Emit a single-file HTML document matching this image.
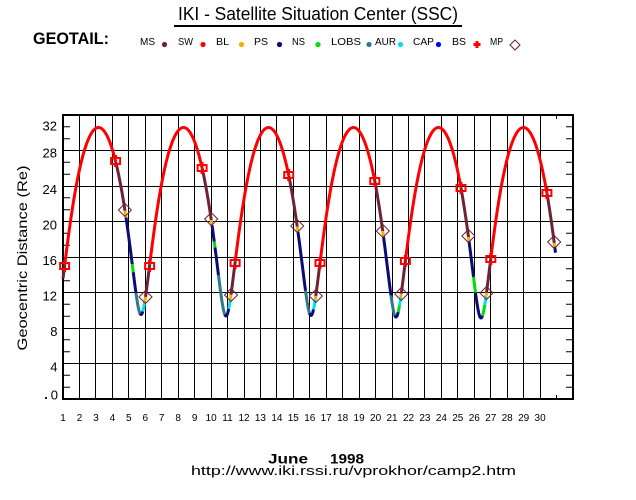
<!DOCTYPE html>
<html><head><meta charset="utf-8">
<style>
html,body{margin:0;padding:0;background:#fff;}
svg{display:block;}
text{font-family:"Liberation Sans",sans-serif;fill:#000;}
</style></head>
<body>
<svg id="s" width="636" height="500" viewBox="0 0 636 500" xmlns="http://www.w3.org/2000/svg">
<rect x="0" y="0" width="636" height="500" fill="#fff"/>
<!-- title -->
<text x="178" y="20" font-size="18" textLength="280" lengthAdjust="spacingAndGlyphs">IKI - Satellite Situation Center (SSC)</text>
<line x1="174" y1="26" x2="462" y2="26" stroke="#000" stroke-width="2"/>
<text x="33" y="44" font-size="17" font-weight="bold" textLength="76" lengthAdjust="spacingAndGlyphs">GEOTAIL:</text>
<!-- legend -->
<g font-size="10.5">
<text x="140" y="45" textLength="15" lengthAdjust="spacingAndGlyphs">MS</text>
<text x="178" y="45" textLength="15" lengthAdjust="spacingAndGlyphs">SW</text>
<text x="216" y="45" textLength="13" lengthAdjust="spacingAndGlyphs">BL</text>
<text x="254" y="45" textLength="14" lengthAdjust="spacingAndGlyphs">PS</text>
<text x="292" y="45" textLength="13" lengthAdjust="spacingAndGlyphs">NS</text>
<text x="331" y="45" textLength="30" lengthAdjust="spacingAndGlyphs">LOBS</text>
<text x="375" y="45" textLength="21" lengthAdjust="spacingAndGlyphs">AUR</text>
<text x="413" y="45" textLength="21" lengthAdjust="spacingAndGlyphs">CAP</text>
<text x="452" y="45" textLength="14" lengthAdjust="spacingAndGlyphs">BS</text>
<text x="490" y="45" textLength="13" lengthAdjust="spacingAndGlyphs">MP</text>
</g>
<circle cx="164.5" cy="44.5" r="2.6" fill="#6e2232"/>
<circle cx="203" cy="44.5" r="2.6" fill="#ff0000"/>
<circle cx="241.5" cy="44.5" r="2.6" fill="#ffaa00"/>
<circle cx="279.5" cy="44.5" r="2.6" fill="#0a0a78"/>
<circle cx="318" cy="44.5" r="2.6" fill="#00dd00"/>
<circle cx="369" cy="44.5" r="2.6" fill="#2a7b8c"/>
<circle cx="400.5" cy="44.5" r="2.6" fill="#00e0f0"/>
<circle cx="438.5" cy="44.5" r="2.6" fill="#0000ff"/>
<path d="M475.5 41h3v2h2v3h-2v2h-3v-2h-2v-3h2z" fill="#ff0000"/>
<path d="M515 40 L520 45 L515 50 L510 45 Z" fill="none" stroke="#6e2232" stroke-width="1"/>

<!-- grid -->
<g stroke="#000" stroke-width="1" fill="none">
<path d="M79.5 115V399M95.5 115V399M112.5 115V399M128.5 115V399M145.5 115V399M161.5 115V399M178.5 115V399M194.5 115V399M211.5 115V399M227.5 115V399M244.5 115V399M260.5 115V399M276.5 115V399M293.5 115V399M309.5 115V399M326.5 115V399M342.5 115V399M359.5 115V399M375.5 115V399M392.5 115V399M408.5 115V399M424.5 115V399M441.5 115V399M457.5 115V399M474.5 115V399M490.5 115V399M507.5 115V399M523.5 115V399M540.5 115V399"/>
<path d="M63 150.5H573M63 186.5H573M63 221.5H573M63 257.5H573M63 292.5H573M63 328.5H573M63 363.5H573"/>
<path d="M556.5 115V119M556.5 399V395"/>
<path id="minor" d=""/>
</g>
<rect x="63" y="115" width="510" height="284" fill="none" stroke="#000" stroke-width="2"/>

<!-- y labels -->
<g font-size="13" text-anchor="end">
<text x="57" y="130.5">32</text>
<text x="57" y="157.5">28</text>
<text x="57" y="194">24</text>
<text x="57" y="229.5">20</text>
<text x="57" y="265">16</text>
<text x="57" y="300.5">12</text>
<text x="57.5" y="336">8</text>
<text x="57.5" y="371.5">4</text>
<text x="58" y="399.5">0</text>
</g>
<rect x="45" y="397" width="2" height="2" fill="#0a0a78"/>
<text transform="translate(27,258) rotate(-90)" font-size="14" text-anchor="middle" textLength="185" lengthAdjust="spacingAndGlyphs">Geocentric Distance (Re)</text>

<!-- x labels -->
<g font-size="10" text-anchor="middle" id="xl"></g>

<text x="268" y="463.5" font-size="14" font-weight="bold" textLength="40" lengthAdjust="spacingAndGlyphs">June</text>
<text x="330" y="463.5" font-size="14" font-weight="bold" textLength="34" lengthAdjust="spacingAndGlyphs">1998</text>
<text x="191" y="475" font-size="13" textLength="325" lengthAdjust="spacingAndGlyphs">http://www.iki.rssi.ru/vprokhor/camp2.htm</text>

<g id="curve" fill="none" stroke-width="3" stroke-linejoin="round" stroke-linecap="butt"></g>
<g id="marks"></g>
</svg>
<script>
(function(){
var NSs='http://www.w3.org/2000/svg';
function el(n,a,p){var e=document.createElementNS(NSs,n);for(var k in a)e.setAttribute(k,a[k]);p.appendChild(e);return e;}
// minor ticks
var d='';
for(var j=1;j<24;j++){ if(j%3===0) continue; var y=(115+284*j/24).toFixed(1); d+='M63 '+y+'H70M566 '+y+'H573'; }
document.getElementById('minor').setAttribute('d',d);
// x labels
var xl=document.getElementById('xl');
for(var dd=1;dd<=30;dd++){ var x=63+16.452*(dd-1); var t=el('text',{x:x.toFixed(1),y:421},xl); t.textContent=String(dd); }

var C={SW:'#ff0000',MS:'#6e2232',BL:'#ffaa00',PS:'#0a0a78',NS:'#00dd00',LO:'#2a7b8c',AU:'#00e0f0'};
var P=85,X0=56,YMAX=127.5,ecc=0.5;
var ymin=[315,314.5,316,315.5,317,318,318];
var cyc=[
 {inb:[[999,'PS']],out:[[266,'MS'],[-999,'SW']],m:{bsOut:266}},
 {inb:[[161,'SW'],[210,'MS'],[216,'BL'],[263,'PS'],[271,'NS'],[293,'PS'],[313,'LO'],[999,'PS']],
  out:[[312,'PS'],[303,'AU'],[297,'BL'],[266,'MS'],[-999,'SW']],m:{bsIn:161,mpIn:210,mpOut:297,bsOut:266}},
 {inb:[[168,'SW'],[219,'MS'],[224,'BL'],[241,'PS'],[247,'NS'],[275,'PS'],[314,'LO'],[999,'PS']],
  out:[[309,'PS'],[300,'AU'],[295,'BL'],[263,'MS'],[-999,'SW']],m:{bsIn:168,mpIn:219,mpOut:295,bsOut:263}},
 {inb:[[175,'SW'],[226,'MS'],[231,'BL'],[290,'PS'],[313,'LO'],[999,'PS']],
  out:[[310,'PS'],[301,'AU'],[296,'BL'],[263,'MS'],[-999,'SW']],m:{bsIn:175,mpIn:226,mpOut:296,bsOut:263}},
 {inb:[[181,'SW'],[231,'MS'],[236,'BL'],[294,'PS'],[315,'LO'],[999,'PS']],
  out:[[313,'PS'],[306,'NS'],[299,'AU'],[294,'BL'],[261,'MS'],[-999,'SW']],m:{bsIn:181,mpIn:231,mpOut:294,bsOut:261}},
 {inb:[[188,'SW'],[236,'MS'],[241,'BL'],[276,'PS'],[292,'NS'],[999,'PS']],
  out:[[316,'PS'],[306,'NS'],[298,'AU'],[293,'BL'],[259,'MS'],[-999,'SW']],m:{bsIn:188,mpIn:236,mpOut:293,bsOut:259}},
 {inb:[[193,'SW'],[242,'MS'],[246,'BL'],[999,'PS']],out:[[-999,'PS']],m:{bsIn:193,mpIn:242}}
];
function kep(M){var E=M;for(var i=0;i<40;i++){E=E-(E-ecc*Math.sin(E)-M)/(1-ecc*Math.cos(E));}return E;}
function info(x){
 var k=Math.round((x-X0)/P); if(k<0)k=0; if(k>6)k=6;
 var dx=x-(X0+k*P); var M=2*Math.PI*dx/P; var E=kep(M);
 var f=(1-Math.cos(E))/2; var ym=ymin[k]; return {k:k,dx:dx,y:ym-f*(ym-YMAX)};
}
function colorOf(inf){
 var c=cyc[inf.k], y=inf.y, i;
 if(inf.dx<0){ for(i=0;i<c.inb.length;i++){ if(y<=c.inb[i][0]) return c.inb[i][1]; } return 'PS'; }
 else { for(i=0;i<c.out.length;i++){ if(y>=c.out[i][0]) return c.out[i][1]; } return 'SW'; }
}
var g=document.getElementById('curve');
var pts=[],cur=null,x;
function flush(){ if(pts.length>1) el('polyline',{points:pts.join(' '),stroke:C[cur]},g); }
for(x=63;x<=555.501;x+=0.25){
 var inf=info(x); var col=colorOf(inf); var p=x.toFixed(2)+','+inf.y.toFixed(2);
 if(col!==cur){ if(cur!==null){ pts.push(p); flush(); } pts=[p]; cur=col; } else pts.push(p);
}
flush();
// markers
var mg=document.getElementById('marks');
function findX(k,target,inbound){
 var base=X0+k*P, s, best=null;
 if(inbound){ for(s=-42.5;s<=0;s+=0.1){ var y=info(base+s).y; if(y>=target){best=base+s;break;} } }
 else { for(s=0;s<=42.5;s+=0.1){ var y2=info(base+s).y; if(y2<=target){best=base+s;break;} } }
 return best;
}
function bs(x,y){
 el('rect',{x:(x-4.5).toFixed(2),y:(y-3).toFixed(2),width:9,height:6,fill:'none',stroke:'#ff0000','stroke-width':2},mg);
 el('rect',{x:(x-1.5).toFixed(2),y:(y-6).toFixed(2),width:3,height:2,fill:'#ff0000'},mg);
 el('rect',{x:(x-1.5).toFixed(2),y:(y+4).toFixed(2),width:3,height:2,fill:'#ff0000'},mg);
}
function mp(x,y){
 var h=6.5;
 el('path',{d:'M'+x+' '+(y-h)+'L'+(x+h)+' '+y+'L'+x+' '+(y+h)+'L'+(x-h)+' '+y+'Z',fill:'none',stroke:'#6e2232','stroke-width':1},mg);
}
for(var k=0;k<cyc.length;k++){
 var m=cyc[k].m, xx;
 if(m.bsIn){ xx=findX(k,m.bsIn,true); if(xx!==null) bs(xx,m.bsIn); }
 if(m.mpIn){ xx=findX(k,m.mpIn,true); if(xx!==null) mp(xx,m.mpIn); }
 if(m.mpOut){ xx=findX(k,m.mpOut,false); if(xx!==null) mp(xx,m.mpOut); }
 if(m.bsOut){ xx=findX(k,m.bsOut,false); if(xx!==null && xx>=62) bs(xx,m.bsOut); }
}
})();
</script>
</body></html>
